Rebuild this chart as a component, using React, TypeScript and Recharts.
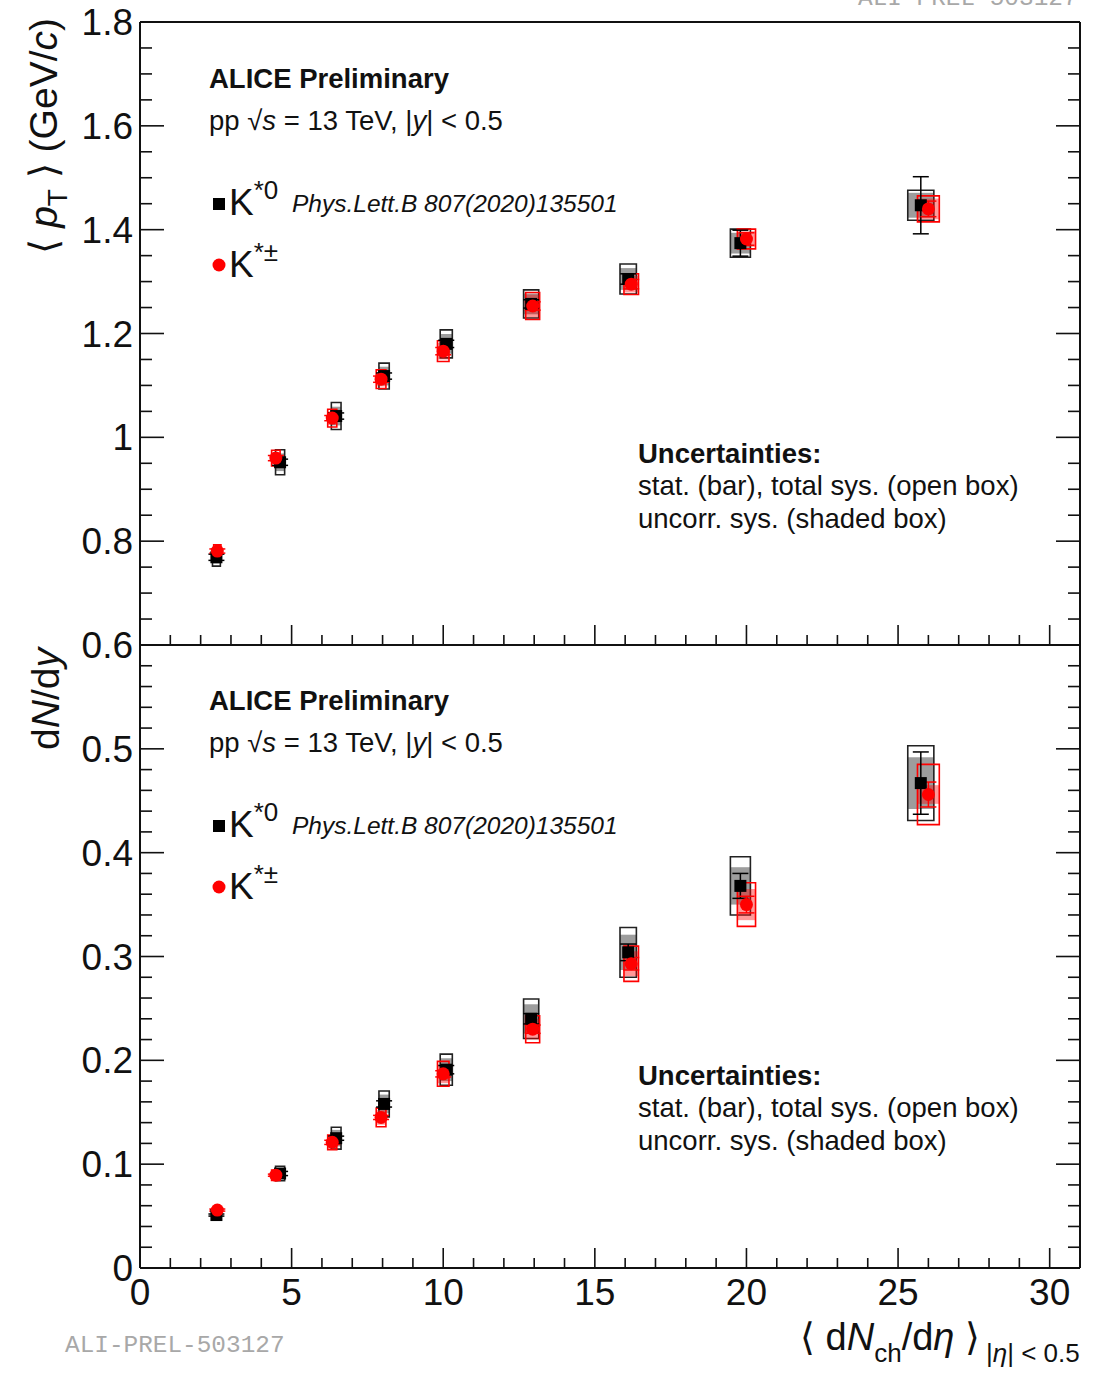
import React from "react";
import { ComposedChart, Scatter, XAxis, YAxis, ReferenceArea, ErrorBar } from "recharts";

const FONT = "'Liberation Sans', Arial, Helvetica, sans-serif";
const INK = "#111";
const RED = "#ff0000";

// <dNch/deta> per multiplicity class (K*± points are drawn slightly shifted)
const xK0 = [2.52, 4.62, 6.47, 8.05, 10.1, 12.9, 16.1, 19.8, 25.75];
const dxK0 = [0.13, 0.15, 0.16, 0.17, 0.2, 0.25, 0.27, 0.33, 0.43];
const xKch = [2.55, 4.48, 6.34, 7.95, 10.0, 12.95, 16.2, 20.0, 26.0];
const dxKch = [0.12, 0.14, 0.15, 0.16, 0.19, 0.23, 0.24, 0.3, 0.36];

// <pT> (GeV/c)
const ptK0 = [0.769, 0.952, 1.041, 1.118, 1.18, 1.257, 1.305, 1.374, 1.447];
const ptK0Stat = [0.006, 0.006, 0.006, 0.006, 0.007, 0.008, 0.01, 0.025, 0.055];
const ptK0Sys = [0.017, 0.024, 0.026, 0.025, 0.027, 0.027, 0.029, 0.027, 0.029];
const ptK0Unc = [0.012, 0.017, 0.018, 0.018, 0.019, 0.02, 0.021, 0.02, 0.024];

const ptKch = [0.781, 0.96, 1.037, 1.112, 1.166, 1.253, 1.295, 1.382, 1.44];
const ptKchStat = [0.004, 0.005, 0.005, 0.006, 0.007, 0.008, 0.009, 0.012, 0.015];
const ptKchSys = [0.012, 0.015, 0.017, 0.018, 0.02, 0.026, 0.02, 0.019, 0.025];
const ptKchUnc = [0.009, 0.011, 0.013, 0.014, 0.016, 0.022, 0.016, 0.015, 0.02];

// dN/dy
const dndyK0 = [0.051, 0.091, 0.125, 0.158, 0.191, 0.24, 0.304, 0.368, 0.467];
const dndyK0Stat = [0.001, 0.002, 0.002, 0.003, 0.004, 0.005, 0.008, 0.012, 0.03];
const dndyK0Sys = [0.004, 0.007, 0.0105, 0.0125, 0.015, 0.019, 0.024, 0.028, 0.036];
const dndyK0Unc = [0.003, 0.005, 0.008, 0.009, 0.011, 0.014, 0.017, 0.018, 0.025];

const dndyKch = [0.0558, 0.0894, 0.121, 0.145, 0.187, 0.23, 0.293, 0.35, 0.456];
const dndyKchStat = [0.001, 0.001, 0.002, 0.002, 0.003, 0.004, 0.006, 0.008, 0.012];
const dndyKchSys = [0.003, 0.005, 0.007, 0.009, 0.012, 0.013, 0.017, 0.021, 0.029];
const dndyKchUnc = [0.002, 0.004, 0.005, 0.007, 0.009, 0.01, 0.012, 0.015, 0.009];

// axis ticks (major + minor)
function range(a: number, b: number, step: number) {
  const out: number[] = [];
  const n = Math.round((b - a) / step);
  for (let i = 0; i <= n; i++) out.push(Math.round((a + i * step) * 1000) / 1000);
  return out;
}
const xTicks = range(0, 31, 1);
const ptTicks = range(0.6, 1.8, 0.05);
const dndyTicks = range(0, 0.6, 0.02);

const isMajorX = (v: number) => v % 5 === 0;
const isMajorPt = (v: number) => Math.abs(v * 5 - Math.round(v * 5)) < 1e-6;
const isMajorDndy = (v: number) => Math.abs(v * 10 - Math.round(v * 10)) < 1e-6;

type Side = "left" | "right" | "top" | "bottom";

function makeTick(
  side: Side,
  isMajor: (v: number) => boolean,
  majorLen: number,
  minorLen: number,
  label?: (v: number) => string | null
) {
  return (props: any) => {
    const { x, y, payload } = props;
    const v = payload.value;
    const major = isMajor(v);
    const len = major ? majorLen : minorLen;
    let x2 = x;
    let y2 = y;
    if (side === "left") x2 = x + len;
    if (side === "right") x2 = x - len;
    if (side === "top") y2 = y + len;
    if (side === "bottom") y2 = y - len;
    const text = major && label ? label(v) : null;
    return (
      <g>
        <line x1={x} y1={y} x2={x2} y2={y2} stroke={INK} strokeWidth={1.6} />
        {text !== null && side === "left" && (
          <text x={x - 7} y={y + 13} textAnchor="end" fontSize={37} fontFamily={FONT} fill={INK}>
            {text}
          </text>
        )}
        {text !== null && side === "bottom" && (
          <text x={x} y={y + 37} textAnchor="middle" fontSize={37} fontFamily={FONT} fill={INK}>
            {text}
          </text>
        )}
      </g>
    );
  };
}

const squareShape = (p: any) => <rect x={p.cx - 6} y={p.cy - 6} width={12} height={12} fill="#000" />;
const circleShape = (p: any) => <circle cx={p.cx} cy={p.cy} r={6.5} fill={RED} />;

function points(xs: number[], ys: number[], stat: number[]) {
  return xs.map((x, i) => ({ x, y: ys[i], stat: stat[i] }));
}

function boxes(
  key: string,
  xs: number[],
  dxs: number[],
  ys: number[],
  err: number[],
  style: Record<string, any>
) {
  return xs.map((x, i) => (
    <ReferenceArea
      key={key + i}
      x1={x - dxs[i]}
      x2={x + dxs[i]}
      y1={ys[i] - err[i]}
      y2={ys[i] + err[i]}
      ifOverflow="visible"
      {...style}
    />
  ));
}

interface PanelProps {
  top: number;
  topAxisH: number;
  bottomAxisH: number;
  domain: [number, number];
  yTicks: number[];
  isMajorY: (v: number) => boolean;
  yLabel: (v: number) => string | null;
  showXLabels: boolean;
  k0: number[];
  k0Stat: number[];
  k0Sys: number[];
  k0Unc: number[];
  kch: number[];
  kchStat: number[];
  kchSys: number[];
  kchUnc: number[];
}

function Panel(p: PanelProps) {
  const plotH = 623;
  const height = p.topAxisH + plotH + p.bottomAxisH;
  const axisLine = { stroke: INK, strokeWidth: 2 };
  return (
    <div style={{ position: "absolute", left: 0, top: p.top, width: 1097, height }}>
      <ComposedChart width={1097} height={height} margin={{ top: 0, right: 0, bottom: 0, left: 0 }}>
        <XAxis
          type="number"
          dataKey="x"
          domain={[0, 31]}
          allowDataOverflow
          ticks={xTicks}
          interval={0}
          height={p.bottomAxisH}
          axisLine={axisLine}
          tickLine={false}
          tickSize={0}
          tickMargin={0}
          tick={makeTick("bottom", isMajorX, 20, 10, p.showXLabels ? (v) => String(v) : undefined)}
        />
        <XAxis
          xAxisId="t"
          orientation="top"
          type="number"
          domain={[0, 31]}
          allowDataOverflow
          ticks={xTicks}
          interval={0}
          height={p.topAxisH}
          axisLine={axisLine}
          tickLine={false}
          tickSize={0}
          tickMargin={0}
          tick={makeTick("top", isMajorX, 20, 10)}
        />
        <YAxis
          type="number"
          dataKey="y"
          domain={p.domain}
          allowDataOverflow
          ticks={p.yTicks}
          interval={0}
          width={140}
          axisLine={axisLine}
          tickLine={false}
          tickSize={0}
          tickMargin={0}
          tick={makeTick("left", p.isMajorY, 24, 12, p.yLabel)}
        />
        <YAxis
          yAxisId="r"
          orientation="right"
          type="number"
          domain={p.domain}
          allowDataOverflow
          ticks={p.yTicks}
          interval={0}
          width={17}
          axisLine={axisLine}
          tickLine={false}
          tickSize={0}
          tickMargin={0}
          tick={makeTick("right", p.isMajorY, 24, 12)}
        />

        {boxes("k0u", xK0, dxK0, p.k0, p.k0Unc, { fill: "#8c8c8c", fillOpacity: 0.85, stroke: "none" })}
        {boxes("k0s", xK0, dxK0, p.k0, p.k0Sys, { fill: "none", fillOpacity: 0, stroke: "#222", strokeWidth: 1.6 })}
        <Scatter data={points(xK0, p.k0, p.k0Stat)} shape={squareShape} isAnimationActive={false}>
          <ErrorBar dataKey="stat" direction="y" width={8} stroke="#000" strokeWidth={1.5} />
        </Scatter>

        {boxes("kcu", xKch, dxKch, p.kch, p.kchUnc, { fill: RED, fillOpacity: 0.4, stroke: "none" })}
        {boxes("kcs", xKch, dxKch, p.kch, p.kchSys, { fill: "none", fillOpacity: 0, stroke: RED, strokeWidth: 1.6 })}
        <Scatter data={points(xKch, p.kch, p.kchStat)} shape={circleShape} isAnimationActive={false}>
          <ErrorBar dataKey="stat" direction="y" width={8} stroke={RED} strokeWidth={1.5} />
        </Scatter>
      </ComposedChart>
    </div>
  );
}

function PanelText({ dy }: { dy: number }) {
  const t = { fontFamily: FONT, fill: INK };
  return (
    <g>
      <text x={209} y={88 + dy} fontSize={27.5} fontWeight="bold" {...t}>
        ALICE Preliminary
      </text>
      <text x={209} y={130 + dy} fontSize={27.5} {...t}>
        pp √<tspan fontStyle="italic">s</tspan> = 13 TeV, |<tspan fontStyle="italic">y</tspan>| &lt; 0.5
      </text>

      <rect x={213} y={198 + dy} width={12} height={12} fill="#000" />
      <text x={229} y={215 + dy} fontSize={37} {...t}>
        K
        <tspan fontSize={26} dy={-16}>
          *0
        </tspan>
      </text>
      <text x={292} y={212 + dy} fontSize={24.5} fontStyle="italic" {...t}>
        Phys.Lett.B 807(2020)135501
      </text>

      <circle cx={219} cy={265 + dy} r={6.5} fill={RED} />
      <text x={229} y={277 + dy} fontSize={37} {...t}>
        K
        <tspan fontSize={26} dy={-16}>
          *±
        </tspan>
      </text>

      <text x={638} y={463 + dy} fontSize={27.5} fontWeight="bold" {...t}>
        Uncertainties:
      </text>
      <text x={638} y={495 + dy} fontSize={27.5} {...t}>
        stat. (bar), total sys. (open box)
      </text>
      <text x={638} y={528 + dy} fontSize={27.5} {...t}>
        uncorr. sys. (shaded box)
      </text>
    </g>
  );
}

function Overlay() {
  const t = { fontFamily: FONT, fill: INK };
  return (
    <svg
      width={1097}
      height={1374}
      style={{ position: "absolute", left: 0, top: 0, pointerEvents: "none" }}
    >
      <PanelText dy={0} />
      <PanelText dy={622} />

      <text transform="translate(57, 18) rotate(-90)" textAnchor="end" fontSize={39} {...t}>
        ⟨ <tspan fontStyle="italic">p</tspan>
        <tspan fontSize={28} dy={10}>
          T
        </tspan>
        <tspan dy={-10}> ⟩ (GeV/</tspan>
        <tspan fontStyle="italic">c</tspan>)
      </text>
      <text transform="translate(59, 648) rotate(-90)" textAnchor="end" fontSize={39} {...t}>
        d<tspan fontStyle="italic">N</tspan>/d<tspan fontStyle="italic">y</tspan>
      </text>

      <text x={800} y={1350} fontSize={38} {...t}>
        ⟨ d<tspan fontStyle="italic">N</tspan>
        <tspan fontSize={26} dy={12}>
          ch
        </tspan>
        <tspan dy={-12}>/d</tspan>
        <tspan fontStyle="italic">η</tspan> ⟩
        <tspan fontSize={26} dy={12} dx={6}>
          |<tspan fontStyle="italic">η</tspan>| &lt; 0.5
        </tspan>
      </text>

      <text x={65} y={1352} fontSize={24.4} fontFamily="'Liberation Mono', 'DejaVu Sans Mono', monospace" fill="#a8a8a8">
        ALI-PREL-503127
      </text>
      <text x={858} y={5} fontSize={24.4} fontFamily="'Liberation Mono', 'DejaVu Sans Mono', monospace" fill="#a8a8a8">
        ALI-PREL-503127
      </text>
    </svg>
  );
}

export default function App() {
  return (
    <div style={{ position: "absolute", left: 0, top: 0, width: 1097, height: 1374, background: "#fff" }}>
      <Panel
        top={0}
        topAxisH={22}
        bottomAxisH={30}
        domain={[0.6, 1.8]}
        yTicks={ptTicks}
        isMajorY={isMajorPt}
        yLabel={(v) => String(Math.round(v * 10) / 10)}
        showXLabels={false}
        k0={ptK0}
        k0Stat={ptK0Stat}
        k0Sys={ptK0Sys}
        k0Unc={ptK0Unc}
        kch={ptKch}
        kchStat={ptKchStat}
        kchSys={ptKchSys}
        kchUnc={ptKchUnc}
      />
      <Panel
        top={615}
        topAxisH={30}
        bottomAxisH={106}
        domain={[0, 0.6]}
        yTicks={dndyTicks}
        isMajorY={isMajorDndy}
        yLabel={(v) => (v >= 0.59 ? null : String(Math.round(v * 10) / 10))}
        showXLabels={true}
        k0={dndyK0}
        k0Stat={dndyK0Stat}
        k0Sys={dndyK0Sys}
        k0Unc={dndyK0Unc}
        kch={dndyKch}
        kchStat={dndyKchStat}
        kchSys={dndyKchSys}
        kchUnc={dndyKchUnc}
      />
      <Overlay />
    </div>
  );
}
